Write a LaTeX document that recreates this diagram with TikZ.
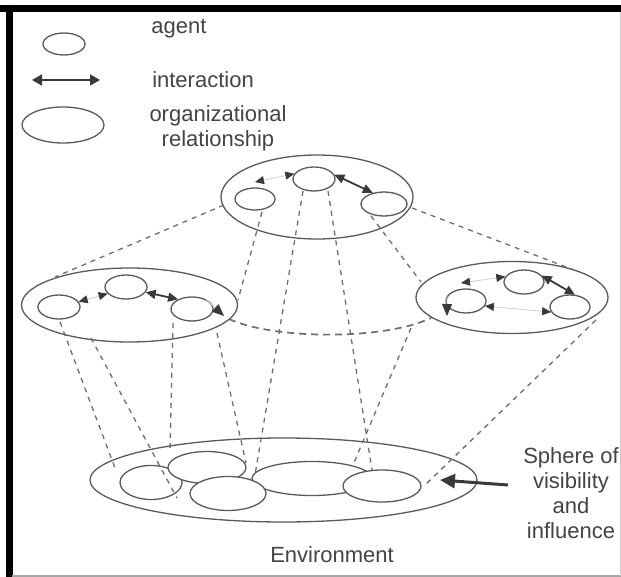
\documentclass[tikz,border=0pt]{standalone}
\usepackage{fontspec}
\setmainfont{Liberation Sans}
\usetikzlibrary{shapes.geometric,arrows.meta}
\definecolor{linegray}{HTML}{5A5A5A}
\definecolor{dashgray}{HTML}{6E6E6E}
\definecolor{textgray}{HTML}{444444}
\definecolor{faintgray}{HTML}{CFCFCF}
\definecolor{tipgray}{HTML}{3A3A3A}

\begin{document}
\begin{tikzpicture}[x=1pt,y=-1pt]
\tikzstyle{agent}=[draw=linegray,line width=1.3pt,shape=ellipse,fill=white,inner sep=0pt,minimum width=42pt,minimum height=24pt];
\tikzstyle{org}=[draw=linegray,line width=1.3pt,shape=ellipse,inner sep=0pt];
\tikzstyle{link}=[draw=dashgray,line width=1.3pt,dash pattern=on 5pt off 5pt];
\tikzstyle{talk}=[draw=tipgray,line width=1.8pt,{Triangle[length=10pt,width=9pt]}-{Triangle[length=10pt,width=9pt]}];
\tikzstyle{weak}=[draw=faintgray,line width=0.8pt,{Triangle[length=9pt,width=8pt,color=tipgray]}-{Triangle[length=9pt,width=8pt,color=tipgray]}];
\tikzstyle{selfloop}=[draw=faintgray,line width=0.8pt,-{Triangle[length=12pt,width=10pt,color=tipgray]}];
\tikzstyle{label}=[text=textgray,font=\fontsize{22}{25}\selectfont,align=center];

\useasboundingbox (0,0) rectangle (621,577);
\fill[white] (0,0) rectangle (621,577);
\draw[black,line width=6.5pt] (0,8.5) -- (621,8.5);
\draw[black,line width=7pt] (9,5) -- (9,577);
\draw[gray!70,line width=1.5pt] (12,576) -- (621,576);
\draw[gray!40,line width=1pt] (620.5,12) -- (620.5,576);

% legend
\node[agent,minimum width=42pt,minimum height=22pt] (keyAgent) at (64,44) {};
\node[label,anchor=base] (keyAgentText) at (179,34) {agent};
\coordinate (keyL) at (32,80);
\coordinate (keyR) at (100,80);
\draw[talk,{Triangle[length=10pt,width=11pt]}-{Triangle[length=10pt,width=11pt]}] (keyL) -- (keyR);
\node[label,anchor=base] (keyTalkText) at (203,88) {interaction};
\node[org,minimum width=82pt,minimum height=36pt] (keyOrg) at (63,125) {};
\node[label] (keyOrgText) at (218,128) {organizational\\relationship};

% organizations
\node[org,minimum width=192pt,minimum height=84pt] (topOrg) at (317,197) {};
\node[org,minimum width=216pt,minimum height=74pt] (leftOrg) at (129.5,305) {};
\node[org,minimum width=192pt,minimum height=72pt] (rightOrg) at (512,297.5) {};

\node[agent,minimum width=40pt,minimum height=22pt] (tA) at (255,199) {};
\node[agent] (tB) at (314,179) {};
\node[agent,minimum width=46pt] (tC) at (384,204) {};

\node[agent] (lA) at (59,307) {};
\node[agent] (lB) at (126,287) {};
\node[agent] (lC) at (192,309) {};

\node[agent,minimum width=40pt] (rA) at (524,282) {};
\node[agent,minimum width=40pt] (rB) at (466,301) {};
\node[agent,minimum width=40pt] (rC) at (570,307) {};

\coordinate (tFree) at (255,182);
\coordinate (lSelf) at (224,316);
\coordinate (rFree) at (461,283);
\coordinate (rSelf) at (447,316);

\draw[talk] (tB.12) -- (tC.135);
\draw[weak] (tB.165) -- (tFree);
\draw[talk] (lB.-15) -- (lC.145);
\draw[weak] (lA.15) -- (lB.200);
\draw[selfloop] (lC.35) -- (lSelf);
\draw[talk] (rA.20) -- (rC.68);
\draw[weak] (rA.164) -- (rFree);
\draw[weak] (rB.-15) -- (rC.195);
\draw[selfloop] (rB.165) -- (rSelf);

% environment
\node[org,minimum width=387pt,minimum height=84pt] (env) at (283.5,480) {};
\node[agent,minimum width=62pt,minimum height=34pt] (e1) at (151,482.5) {};
\node[agent,minimum width=78pt,minimum height=32pt] (e2) at (207,467.5) {};
\node[agent,minimum width=120pt,minimum height=34pt] (e4) at (312,478.5) {};
\node[agent,minimum width=76pt,minimum height=34pt] (e3) at (228,493.5) {};
\node[agent,minimum width=78pt,minimum height=32pt] (e5) at (382,486) {};
\node[label,anchor=base] (envText) at (332,562) {Environment};

% projections
\coordinate (tl1) at (224,205);  \coordinate (tl2) at (55,277);
\coordinate (tr1) at (412,208);  \coordinate (tr2) at (574,270);
\coordinate (a1) at (262,212);   \coordinate (a2) at (238,300);
\coordinate (b1) at (303,191);   \coordinate (b2) at (255,475);
\coordinate (c1) at (328,191);   \coordinate (c2) at (372,470);
\coordinate (d1) at (371,216);   \coordinate (d2) at (421,282);
\coordinate (p1) at (60,322);    \coordinate (p2) at (115,468);
\coordinate (q1) at (91,338);    \coordinate (q2) at (177,498);
\coordinate (s1) at (173,323);   \coordinate (s2) at (170,452);
\coordinate (u1) at (217,333);   \coordinate (u2) at (246,463);
\coordinate (v1) at (411,328);   \coordinate (v2) at (353,465);
\coordinate (w1) at (596,320);   \coordinate (w2) at (425,485);
\coordinate (m1) at (229,319);   \coordinate (m2) at (431,318);

\draw[link] (tl1) -- (tl2);
\draw[link] (tr1) -- (tr2);
\draw[link] (a1) -- (a2);
\draw[link] (b1) -- (b2);
\draw[link] (c1) -- (c2);
\draw[link] (d1) -- (d2);
\draw[link] (p1) -- (p2);
\draw[link] (q1) -- (q2);
\draw[link] (s1) -- (s2);
\draw[link] (u1) -- (u2);
\draw[link] (v1) -- (v2);
\draw[link] (w1) -- (w2);
\draw[link,line width=1.7pt,dash pattern=on 7pt off 5pt] (m1) .. controls (275,340) and (385,340) .. (m2);

% sphere
\node[label] (sphereText) at (571,493) {Sphere of\\visibility\\and\\influence};
\coordinate (sphereTail) at (508,485);
\draw[draw=tipgray,line width=3pt,-{Triangle[length=15pt,width=14pt]}] (sphereTail) -- (env.east -| 440,0);
\end{tikzpicture}
\end{document}
